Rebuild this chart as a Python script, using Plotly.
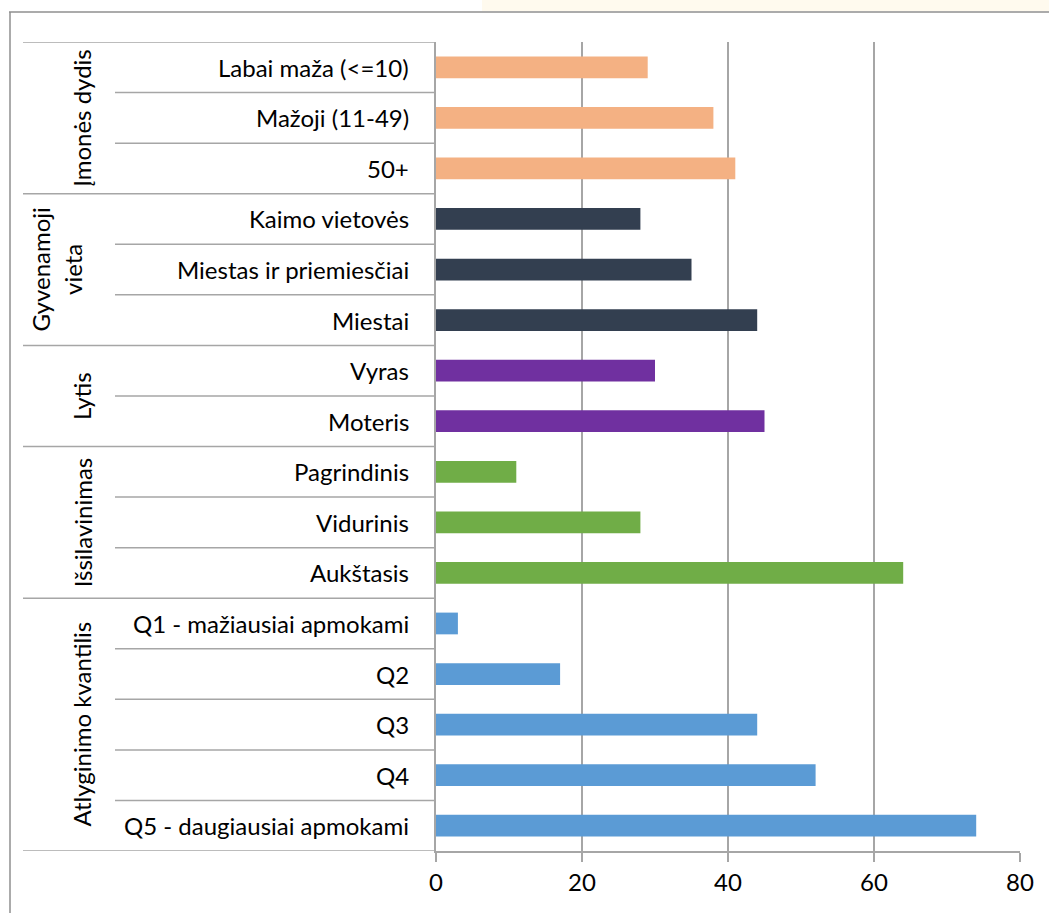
import plotly.graph_objects as go

# Survey breakdown: share by group (percent)
groups = ["Įmonės dydis", "Gyvenamoji<br>vieta", "Lytis", "Išsilavinimas", "Atlyginimo kvantilis"]
categories = [
    ["Labai maža (<=10)", "Mažoji (11-49)", "50+"],
    ["Kaimo vietovės", "Miestas ir priemiesčiai", "Miestai"],
    ["Vyras", "Moteris"],
    ["Pagrindinis", "Vidurinis", "Aukštasis"],
    ["Q1 - mažiausiai apmokami", "Q2", "Q3", "Q4", "Q5 - daugiausiai apmokami"],
]
values = [
    [29, 38, 41],
    [28, 35, 44],
    [30, 45],
    [11, 28, 64],
    [3, 17, 44, 52, 74],
]
group_colors = ["#F4B183", "#333F50", "#7030A0", "#70AD47", "#5B9BD5"]
x_ticks = [0, 20, 40, 60, 80]

W, H = 1049, 913
L, R, T, B = 436, 1020, 42, 851
FS = 24

def px(x):
    return (x - L) / (R - L)

def py(y):
    return 1 - (y - T) / (B - T)

cat_flat, val_flat, col_flat = [], [], []
for cats, vals, c in zip(categories, values, group_colors):
    cat_flat += cats
    val_flat += vals
    col_flat += [c] * len(cats)

fig = go.Figure(go.Bar(
    x=val_flat, y=cat_flat, orientation="h",
    marker=dict(color=col_flat, line=dict(width=0)),
    width=0.43, hoverinfo="x+y",
))

line_col = "#A6A6A6"
shapes = []
annotations = []

# cream band at the top and the outer frame
shapes.append(dict(type="rect", xref="paper", yref="paper",
                   x0=px(482), x1=px(1060), y0=py(11), y1=py(-5),
                   fillcolor="#FFFAEE", line=dict(width=0), layer="below"))
shapes.append(dict(type="line", xref="paper", yref="paper",
                   x0=px(9), x1=px(1060), y0=py(12), y1=py(12),
                   line=dict(color="#8F8F8F", width=1.5)))
shapes.append(dict(type="line", xref="paper", yref="paper",
                   x0=px(10), x1=px(10), y0=py(12), y1=py(920),
                   line=dict(color="#8F8F8F", width=1.5)))

# group and category separators on the left
idx = 0
for g, cats in zip(groups, categories):
    start = idx
    shapes.append(dict(type="line", xref="paper", yref="y",
                       x0=px(23), x1=px(436), y0=start - 0.5, y1=start - 0.5,
                       line=dict(color=line_col, width=1.5)))
    for k in range(1, len(cats)):
        shapes.append(dict(type="line", xref="paper", yref="y",
                           x0=px(115), x1=px(436), y0=start + k - 0.5, y1=start + k - 0.5,
                           line=dict(color=line_col, width=1.5)))
    for k, c in enumerate(cats):
        annotations.append(dict(text=c, xref="paper", yref="y", x=px(411), y=start + k,
                                xanchor="right", yanchor="middle", showarrow=False,
                                font=dict(size=FS, color="#000000")))
    idx += len(cats)
    mid = (start + idx - 1) / 2
    annotations.append(dict(text=g, xref="paper", yref="y",
                            x=px(56 if "<br>" in g else 82), y=mid,
                            xanchor="center", yanchor="middle", textangle=-90,
                            showarrow=False, font=dict(size=FS, color="#000000")))
shapes.append(dict(type="line", xref="paper", yref="y",
                   x0=px(23), x1=px(436), y0=idx - 0.5, y1=idx - 0.5,
                   line=dict(color=line_col, width=1.5)))

fig.update_layout(
    width=W, height=H,
    margin=dict(l=L, r=W - R, t=T, b=H - B),
    paper_bgcolor="#FFFFFF", plot_bgcolor="#FFFFFF",
    font=dict(family="Lato, 'Open Sans', sans-serif", color="#000000"),
    showlegend=False,
    shapes=shapes,
    annotations=annotations,
    bargap=0.5,
    xaxis=dict(range=[0, 80], tickvals=x_ticks, showgrid=True, gridcolor=line_col,
               gridwidth=1.5, zeroline=False, showline=True, linecolor=line_col,
               linewidth=1.5, ticks="outside", ticklen=9, tickcolor=line_col,
               tickwidth=1.5, tickfont=dict(size=FS, color="#000000"), fixedrange=True),
    yaxis=dict(type="category", categoryorder="array", categoryarray=cat_flat,
               range=[len(cat_flat) - 0.5, -0.5], showticklabels=False,
               showgrid=False, zeroline=False, showline=True, linecolor=line_col,
               linewidth=1.5, ticks="", fixedrange=True),
)

fig.write_html("out.html")
